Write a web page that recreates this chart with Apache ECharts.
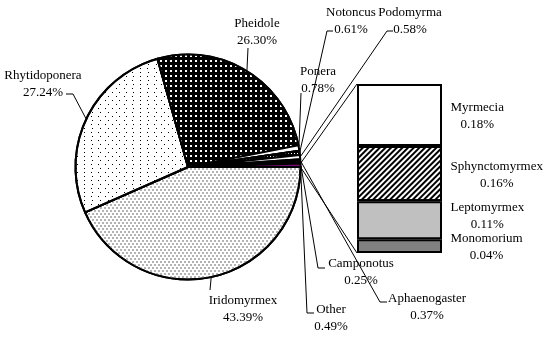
<!DOCTYPE html>
<html><head><meta charset="utf-8">
<script src="https://cdn.jsdelivr.net/npm/echarts/dist/echarts.min.js"></script>
<style>html,body{margin:0;padding:0;background:#fff}#c{width:550px;height:337px}</style>
</head><body><div id="c"></div>
<script>
// ---- data ----
const pieNames = ['Iridomyrmex','Rhytidoponera','Pheidole','Ponera','Notoncus','Podomyrma','Aphaenogaster','Camponotus','Other'];
const pieValues = [43.39, 27.24, 26.30, 0.78, 0.61, 0.58, 0.37, 0.25, 0.49];
const barNames = ['Monomorium','Leptomyrmex','Sphynctomyrmex','Myrmecia'];
const barValues = [0.04, 0.11, 0.16, 0.18];

// ---- layout (positions of labels / leader elbows) ----
const pieCenter = [188, 167];
const pieRadius = 112.5;
const pieLabelPos = [[243,309],[43,84],[257,32],[318,80],[351,21],[410,21],[427,307],[361,272],[331,318]];
const pieLeaderBend = [[210,290],[73,94],[248,48],[301,93],[327,31],[387,31],[380,302],[318,268],[307,313]];
const pieLeaderEnd  = [[210,290],[66,94],[248,48],[301,93],[333,31],[393,31],[387,302],[325,268],[314,313]];
const barLabelDy = [1, -4, 1, 1.5];

// ---- styles ----
const pieStyles = [
  {color:'#ffffff', decal:{symbol:'rect', symbolSize:1, color:'#b4b4b4', dashArrayX:[[2,2],[0,2,2,0]], dashArrayY:[2,0.5]}},
  {color:'#ffffff', decal:{symbol:'rect', symbolSize:1, color:'#000000', dashArrayX:[[1,6],[0,3.5,1,2.5]], dashArrayY:[1,2.5]}},
  {color:'#000000', decal:{symbol:'rect', symbolSize:1, color:'#ffffff', dashArrayX:[1.5,2.5], dashArrayY:[1.5,2.5]}},
  {color:'#ffffff'},
  {color:'#000000', decal:{symbol:'rect', symbolSize:1, color:'#ffffff', dashArrayX:[1,2], dashArrayY:[1,2]}},
  {color:'#ffffff'},
  {color:'#000000'},
  {color:'#888888'},
  {color:'#7a0a7a'}
];
const barStyles = [
  {color:'#808080'},
  {color:'#c0c0c0'},
  {color:'#ffffff', decal:{symbol:'rect', symbolSize:1, color:'#000000', dashArrayX:[1,0], dashArrayY:[1.4,2], rotation:-Math.PI/4}},
  {color:'#ffffff'}
];
const FONT = 'Liberation Serif';

const chart = echarts.init(document.getElementById('c'), null, {renderer:'canvas'});
const total = pieValues.reduce((a,b)=>a+b,0);
const barTotal = barValues.reduce((a,b)=>a+b,0);

function edgePoint(i){
  let before = 0;
  for (let k=0;k<i;k++) before += pieValues[k];
  const mid = (before + pieValues[i]/2)/total*2*Math.PI;
  return [pieCenter[0] + pieRadius*Math.cos(mid), pieCenter[1] + pieRadius*Math.sin(mid)];
}

const series = [{
  type:'pie',
  center: pieCenter,
  radius: pieRadius,
  startAngle: 0,
  clockwise: true,
  avoidLabelOverlap: false,
  silent: true,
  animation: false,
  itemStyle: {borderColor:'#000', borderWidth:2},
  label: {
    show:true, position:'outside', color:'#000', fontFamily:FONT, fontSize:13, lineHeight:17,
    formatter: p => p.name + '\n' + p.value.toFixed(2) + '%'
  },
  labelLine: {show:true, length:8, length2:8, lineStyle:{color:'#000', width:1}},
  labelLayout: function(p){
    const i = p.dataIndex;
    const s = (p.labelLinePoints && p.labelLinePoints[0]) ? p.labelLinePoints[0] : edgePoint(i);
    return {
      x: pieLabelPos[i][0], y: pieLabelPos[i][1], align:'center', verticalAlign:'middle',
      labelLinePoints: [s, pieLeaderBend[i], pieLeaderEnd[i]]
    };
  },
  data: pieNames.map((n,i)=>({name:n, value:pieValues[i], itemStyle:pieStyles[i]}))
}];

barNames.forEach((n,i)=>{
  series.push({
    type:'bar', name:n, stack:'other', barWidth:'100%', silent:true, animation:false,
    itemStyle: Object.assign({borderColor:'#000', borderWidth:2}, barStyles[i]),
    label: {show:true, position:'right', color:'#000', fontFamily:FONT, fontSize:13, lineHeight:17,
      formatter: p => p.seriesName + '\n' + p.value.toFixed(2) + '%'},
    labelLayout: function(p){
      return {
        x: p.rect.x + p.rect.width + 8.5 + p.labelRect.width/2,
        y: p.rect.y + p.rect.height/2 + barLabelDy[i],
        align:'center', verticalAlign:'middle'
      };
    },
    data:[barValues[i]]
  });
});

chart.setOption({
  backgroundColor:'#ffffff',
  animation:false,
  grid:{left:357, top:84, width:85, height:169},
  xAxis:{type:'category', data:['Other'], show:false},
  yAxis:{type:'value', min:0, max:barTotal, show:false},
  series: series
});

// connector lines from the "Other" slice to the bar
const otherIdx = pieNames.indexOf('Other');
let before = 0;
for (let k=0;k<otherIdx;k++) before += pieValues[k];
const a1 = before/total*2*Math.PI, a2 = (before+pieValues[otherIdx])/total*2*Math.PI;
const p1 = [pieCenter[0]+pieRadius*Math.cos(a1), pieCenter[1]+pieRadius*Math.sin(a1)];
const p2 = [pieCenter[0]+pieRadius*Math.cos(a2), pieCenter[1]+pieRadius*Math.sin(a2)];
const topPt = chart.convertToPixel({gridIndex:0}, ['Other', barTotal]);
const botPt = chart.convertToPixel({gridIndex:0}, ['Other', 0]);
const barLeft = 357;
chart.setOption({graphic:[
  {type:'line', silent:true, shape:{x1:p1[0], y1:p1[1], x2:barLeft, y2:topPt[1]}, style:{stroke:'#000', lineWidth:1}},
  {type:'line', silent:true, shape:{x1:p2[0], y1:p2[1], x2:barLeft, y2:botPt[1]}, style:{stroke:'#000', lineWidth:1}}
]});
</script>
</body></html>
